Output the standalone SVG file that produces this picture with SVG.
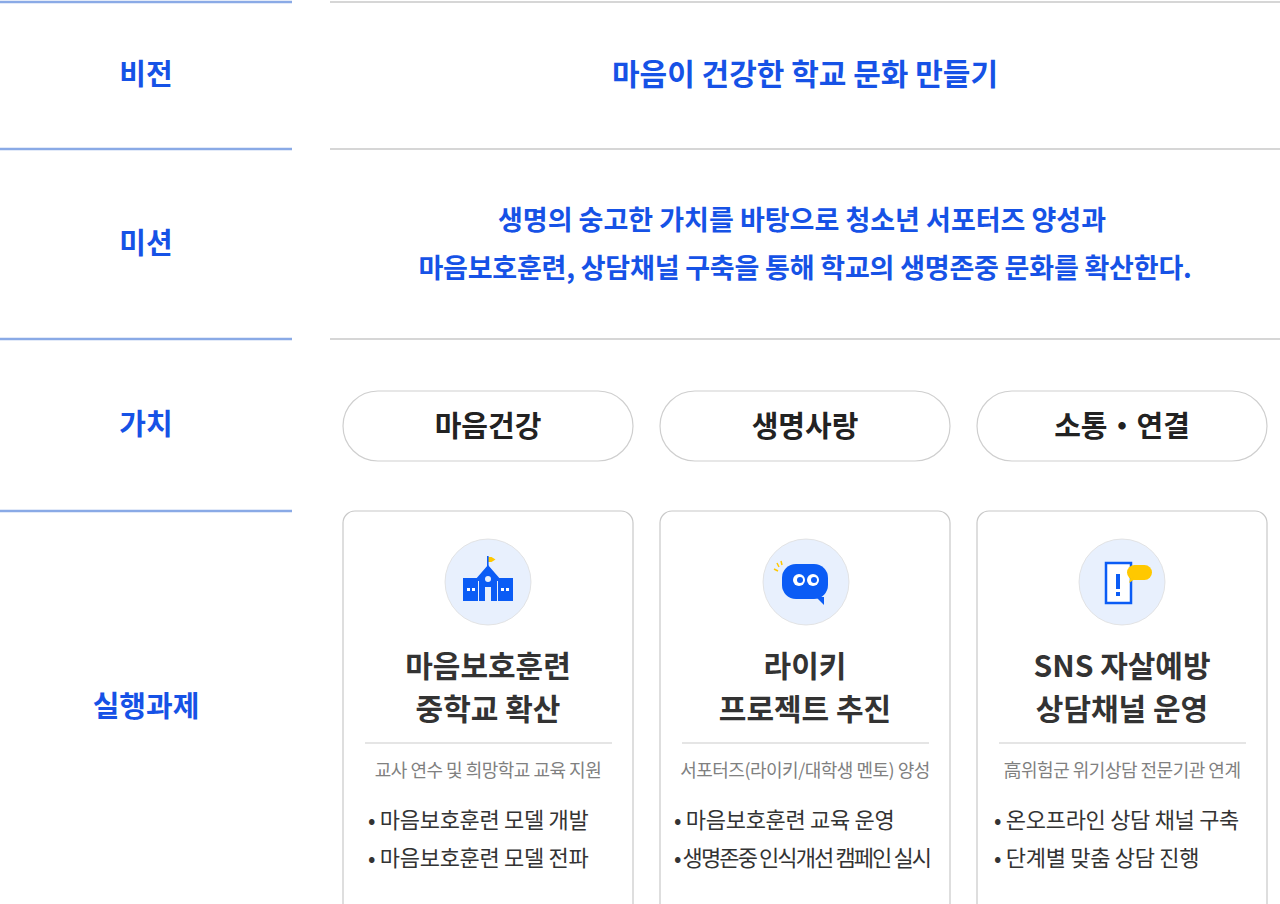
<svg xmlns="http://www.w3.org/2000/svg" width="1280" height="904" viewBox="0 0 1280 904">
<style>
text{font-family:"Noto Sans CJK KR","Noto Sans",sans-serif}
.lab{font-size:29px;font-weight:700;fill:#1652e6;text-anchor:middle}
.blue{font-size:30px;font-weight:700;fill:#1652e6;text-anchor:middle}
.pill{fill:#fff;stroke:#cfcfcf;stroke-width:1.2}
.pt{font-size:29px;font-weight:700;fill:#222;text-anchor:middle}
.card{fill:#fff;stroke:#c8c8c8;stroke-width:1.2}
.ct{font-size:30px;font-weight:700;fill:#333;text-anchor:middle}
.sub{font-size:18px;fill:#808080;text-anchor:middle;letter-spacing:-0.5px}
.bul{font-size:22px;fill:#333;letter-spacing:-0.3px}
.ic{fill:#e8f0fd}
.b{fill:#0b5cf5}
</style>
<rect width="1280" height="904" fill="#fff"/>
<g id="lines">
<g stroke="#8aaae6" stroke-width="2.5">
<line x1="0" y1="2" x2="292" y2="2"/><line x1="0" y1="149" x2="292" y2="149"/><line x1="0" y1="339" x2="292" y2="339"/><line x1="0" y1="511" x2="292" y2="511"/>
</g>
<g stroke="#d6d6d6" stroke-width="2">
<line x1="330" y1="2" x2="1280" y2="2"/><line x1="330" y1="149" x2="1280" y2="149"/><line x1="330" y1="339" x2="1280" y2="339"/>
</g>
</g>
<g id="labels">
<text class="lab" x="146" y="85">비전</text>
<text class="lab" x="146" y="254">미션</text>
<text class="lab" x="146" y="435">가치</text>
<text class="lab" x="146" y="717">실행과제</text>
</g>
<g id="vision"><text class="blue" x="805" y="85">마음이 건강한 학교 문화 만들기</text></g>
<g id="mission">
<text class="blue" x="802" y="230" style="font-size:27px">생명의 숭고한 가치를 바탕으로 청소년 서포터즈 양성과</text>
<text class="blue" x="805" y="278" style="font-size:27px;letter-spacing:-0.2px">마음보호훈련, 상담채널 구축을 통해 학교의 생명존중 문화를 확산한다.</text>
</g>
<g id="v1"><rect class="pill" x="343" y="391" width="290" height="70" rx="35"/><text class="pt" x="488" y="437">마음건강</text></g>
<g id="v2"><rect class="pill" x="660" y="391" width="290" height="70" rx="35"/><text class="pt" x="805" y="437">생명사랑</text></g>
<g id="v3"><rect class="pill" x="977" y="391" width="290" height="70" rx="35"/><text class="pt" x="1122" y="437">소통・연결</text></g>
<g id="c1">
<rect class="card" x="343" y="511" width="290" height="410" rx="12"/>
<circle class="ic" cx="488" cy="582" r="43" stroke="#ddd" stroke-width="0.8"/>
<g transform="translate(22,0)">
<path d="M466 557h3.5l4 2.5-4 2.5h-3.5z" fill="#ffc800"/>
<rect class="b" x="465" y="556" width="1.6" height="12"/>
<path class="b" d="M453 580l13-15 13 15h-4l-9-10-9 10z"/>
<path class="b" d="M457 578l9-10 9 10v23h-18z"/>
<rect class="b" x="441" y="580" width="15" height="21"/><rect class="b" x="476" y="580" width="15" height="21"/>
<rect class="b" x="441" y="578" width="50" height="3"/>
<circle cx="466" cy="579" r="3" fill="#e8f0fd"/><rect x="463" y="587" width="6" height="14" fill="#e8f0fd"/>
<g fill="#fff"><rect x="445" y="588" width="3" height="3"/><rect x="450" y="588" width="3" height="3"/><rect x="479" y="588" width="3" height="3"/><rect x="484" y="588" width="3" height="3"/></g>
</g>
<text class="ct" x="488" y="677">마음보호훈련</text><text class="ct" x="488" y="720">중학교 확산</text>
<line x1="365" y1="743" x2="612" y2="743" stroke="#ddd" stroke-width="1.5"/>
<text class="sub" x="488" y="777">교사 연수 및 희망학교 교육 지원</text>
<text class="bul" x="368" y="828">• 마음보호훈련 모델 개발</text>
<text class="bul" x="368" y="866">• 마음보호훈련 모델 전파</text>
</g>
<g id="c2">
<rect class="card" x="660" y="511" width="290" height="410" rx="12"/>
<circle class="ic" cx="806" cy="582" r="43" stroke="#ddd" stroke-width="0.8"/>
<rect class="b" x="782" y="564" width="46" height="35" rx="14"/>
<path class="b" d="M816 597l8 8v-8z"/>
<circle cx="799" cy="580" r="6" fill="#fff"/><circle cx="813" cy="580" r="6" fill="#fff"/>
<circle cx="800" cy="580" r="3" fill="#0b5cf5"/><circle cx="814" cy="580" r="3" fill="#0b5cf5"/>
<path d="M774 569l4 2M777 563l2 4M781 561l1 4" stroke="#ffc800" stroke-width="1.5"/>
<text class="ct" x="805" y="677">라이키</text><text class="ct" x="805" y="720">프로젝트 추진</text>
<line x1="682" y1="743" x2="929" y2="743" stroke="#ddd" stroke-width="1.5"/>
<text class="sub" x="805" y="777">서포터즈(라이키/대학생 멘토) 양성</text>
<text class="bul" x="674" y="828">• 마음보호훈련 교육 운영</text>
<text class="bul" x="674" y="866" style="letter-spacing:-1.9px">• 생명존중 인식개선 캠페인 실시</text>
</g>
<g id="c3">
<rect class="card" x="977" y="511" width="290" height="410" rx="12"/>
<circle class="ic" cx="1122" cy="582" r="43" stroke="#ddd" stroke-width="0.8"/>
<rect x="1106" y="563" width="25" height="40" fill="#fff" stroke="#0b5cf5" stroke-width="2.5"/>
<rect class="b" x="1116" y="574" width="4" height="15"/><rect class="b" x="1116" y="592" width="4" height="4"/>
<rect x="1127" y="565" width="25" height="15" rx="7.5" fill="#ffc800"/><path d="M1131 576l-2 7 6-4z" fill="#ffc800"/>
<text class="ct" x="1122" y="677">SNS 자살예방</text><text class="ct" x="1122" y="720">상담채널 운영</text>
<line x1="999" y1="743" x2="1246" y2="743" stroke="#ddd" stroke-width="1.5"/>
<text class="sub" x="1122" y="777">高위험군 위기상담 전문기관 연계</text>
<text class="bul" x="994" y="828">• 온오프라인 상담 채널 구축</text>
<text class="bul" x="994" y="866">• 단계별 맞춤 상담 진행</text>
</g>
</svg>
